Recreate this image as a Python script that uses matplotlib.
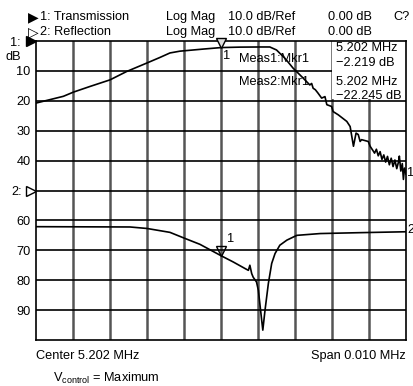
import matplotlib
matplotlib.use("Agg")
import matplotlib.pyplot as plt
import matplotlib.transforms as mtransforms
from matplotlib.patches import Rectangle

plt.rcParams['font.family'] = ['Liberation Sans', 'DejaVu Sans']

# frequency offset from centre (kHz) and trace values (dB)
center_mhz = 5.202
span_mhz = 0.010

trans_khz = [-4.98, -4.26, -3.99, -3.54, -3.0, -2.55, -2.01, -1.65, -1.38, -1.11,
             -1.02, -0.48, 0.0, 0.51, 1.05, 1.32, 1.5, 1.73, 1.95, 2.22,
             2.40, 2.45, 2.49, 2.55, 2.62, 2.72, 2.81, 2.86, 2.99, 3.03,
             3.17, 3.4, 3.49, 3.58, 3.65, 3.71, 3.76, 3.8, 3.98, 4.03,
             4.12, 4.15, 4.2, 4.25, 4.3, 4.35, 4.4, 4.45, 4.5, 4.55,
             4.6, 4.65, 4.7, 4.75, 4.8, 4.82, 4.86, 4.9, 4.93, 4.96, 5.0]
trans_db = [-20.7, -18.5, -17.1, -15.2, -13.0, -10.2, -7.4, -5.5, -4.0, -3.4,
            -3.3, -2.7, -2.2, -2.05, -2.0, -2.0, -3.0, -5.8, -9.1, -12.4,
            -14.7, -14.2, -15.8, -16.3, -17.4, -19.1, -18.6, -21.3, -21.9, -23.6,
            -24.7, -26.9, -28.6, -35.2, -30.8, -31.3, -33.6, -33.0, -33.6, -35.2,
            -36.9, -37.5, -36.2, -38.4, -37.0, -39.6, -38.1, -40.5, -38.6, -41.4,
            -39.2, -42.0, -39.8, -42.7, -40.3, -38.5, -43.5, -41.0, -46.3, -42.5, -44.5]

refl_khz = [-5.0, -2.46, -2.0, -1.38, -0.98, -0.57, 0.0, 0.33, 0.65, 0.74,
            0.78, 0.83, 0.87, 0.96, 1.01, 1.1, 1.13, 1.19, 1.28, 1.37,
            1.46, 1.59, 1.78, 2.05, 2.68, 3.76, 5.0]
refl_db = [-12.1, -12.2, -12.7, -14.0, -16.0, -18.0, -21.8, -23.9, -26.1, -26.7,
           -25.0, -27.8, -29.0, -30.6, -33.4, -43.4, -46.7, -40.0, -31.1, -24.4,
           -21.1, -18.3, -16.6, -15.0, -14.4, -14.1, -13.8]

# reference positions (in divisions from top, 10 dB/div)
ref1 = 0
ref2 = 50

tr_x = [center_mhz + k / 1000 for k in trans_khz]
tr_y = [ref1 - v for v in trans_db]
rf_x = [center_mhz + k / 1000 for k in refl_khz]
rf_y = [ref2 - v for v in refl_db]

fig = plt.figure(figsize=(4.13, 3.86), dpi=100)
ax = fig.add_axes([36 / 413, 1 - 340 / 386, 370 / 413, 299 / 386])
xmin = center_mhz - span_mhz / 2
xmax = center_mhz + span_mhz / 2
div = span_mhz / 10
ax.set_xlim(xmin, xmax)
ax.set_ylim(100, 0)

for i in range(1, 10):
    ax.axvline(xmin + i * div, color='#555555', lw=1.8, zorder=1)
for v in range(10, 100, 10):
    ax.axhline(v, color='black', lw=1.2, zorder=1)

# marker readout box
ax.add_patch(Rectangle((xmin + 8 * div, 0), 2 * div, 19.5,
                       facecolor='white', edgecolor='none', zorder=2))

ax.plot(tr_x, tr_y, color='black', lw=1.2, zorder=3)
ax.plot(rf_x, rf_y, color='black', lw=1.2, zorder=3)

# marker triangles
mk1 = tr_y[trans_khz.index(0.0)]
mk2 = rf_y[refl_khz.index(0.0)]
off = mtransforms.offset_copy(ax.transData, fig=fig, x=0, y=3.2, units='points')
ax.plot([center_mhz], [mk1], marker='v', ms=7.5, mfc='#dddddd', mec='black',
        mew=1.0, transform=off, zorder=4, clip_on=False)
ax.plot([center_mhz], [mk2], marker='v', ms=7.5, mfc='none', mec='black',
        mew=1.0, transform=off, zorder=4)

fs = 9.2
ax.text(center_mhz + 0.05 * div, mk1 + 2.8, "1", fontsize=fs, va='center', ha='left')
ax.text(center_mhz + 0.17 * div, mk2 - 5.5, "1", fontsize=fs, va='center', ha='left')

ax.text(xmin + 5.5 * div, 6.0, "Meas1:Mkr1", fontsize=fs, va='center', zorder=5)
ax.text(xmin + 5.5 * div, 13.6, "Meas2:Mkr1", fontsize=fs, va='center', zorder=5)
bx = xmin + 8.12 * div
ax.text(bx, 2.3, "5.202 MHz", fontsize=fs, va='center', zorder=5)
ax.text(bx, 7.3, "\u22122.219 dB", fontsize=fs, va='center', zorder=5)
ax.text(bx, 13.6, "5.202 MHz", fontsize=fs, va='center', zorder=5)
ax.text(bx, 18.3, "\u221222.245 dB", fontsize=fs, va='center', zorder=5)

# trace end labels
ax.text(xmax + 0.03 * div, tr_y[-1] - 0.5, "1", fontsize=fs, va='center', clip_on=False)
ax.text(xmax + 0.03 * div, rf_y[-1] - 0.5, "2", fontsize=fs, va='center', clip_on=False)

ax.set_xticks([])
ticks = [10, 20, 30, 40, 60, 70, 80, 90]
ax.set_yticks(ticks)
ax.set_yticklabels([str(t) for t in ticks], fontsize=fs)
ax.tick_params(axis='y', length=0, pad=4)
for s in ax.spines.values():
    s.set_linewidth(1.2)

# left reference markers
lmark = mtransforms.offset_copy(ax.transData, fig=fig, x=-3.3, y=0, units='points')
ax.plot([xmin], [ref1], marker='>', ms=6.5, color='black', clip_on=False,
        transform=lmark, zorder=5)
ax.plot([xmin], [ref2], marker='>', ms=6.5, mfc='white', mec='black', mew=1.0,
        clip_on=False, transform=lmark, zorder=5)
fig.text(21 / 413, 1 - 43 / 386, "1:", fontsize=fs, ha='right', va='center')
fig.text(5 / 413, 1 - 57 / 386, "dB", fontsize=fs, ha='left', va='center')
fig.text(22 / 413, 1 - 192 / 386, "2:", fontsize=fs, ha='right', va='center')

# header
row1 = 1 - 17 / 386
row2 = 1 - 32 / 386
fig.text(28 / 413, row1, "\u25B6", fontsize=10, family='DejaVu Sans', ha='left', va='center')
fig.text(40 / 413, row1, "1: Transmission", fontsize=fs, ha='left', va='center')
fig.text(28 / 413, row2, "\u25B7", fontsize=10, family='DejaVu Sans', ha='left', va='center')
fig.text(40 / 413, row2, "2: Reflection", fontsize=fs, ha='left', va='center')
for row in (row1, row2):
    fig.text(166 / 413, row, "Log Mag", fontsize=fs, ha='left', va='center')
    fig.text(228 / 413, row, "10.0 dB/Ref", fontsize=fs, ha='left', va='center')
    fig.text(328 / 413, row, "0.00 dB", fontsize=fs, ha='left', va='center')
fig.text(393 / 413, row1, "C?", fontsize=fs, ha='left', va='center')

# footer
fig.text(36 / 413, 1 - 356 / 386, "Center 5.202 MHz", fontsize=fs, ha='left', va='center')
fig.text(406 / 413, 1 - 356 / 386, "Span 0.010 MHz", fontsize=fs, ha='right', va='center')
fig.text(53 / 413, 1 - 378 / 386, r"V$_{\mathregular{control}}$ = Maximum", fontsize=fs,
         ha='left', va='center')

fig.savefig("out.png", dpi=100)
